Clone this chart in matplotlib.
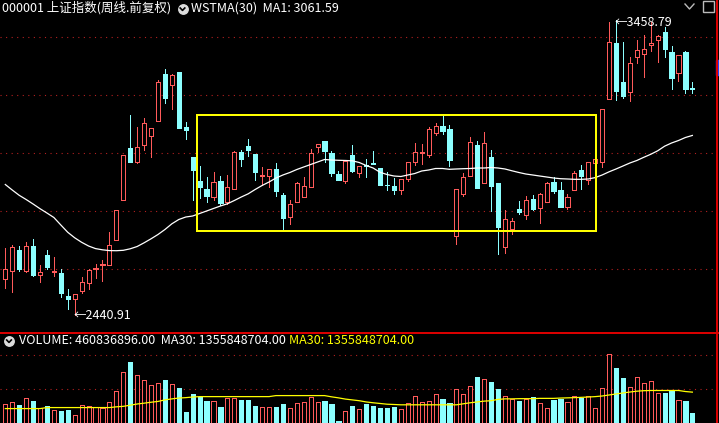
import matplotlib
matplotlib.use("Agg")
import matplotlib.pyplot as plt
import matplotlib.transforms as mtransforms
from matplotlib.lines import Line2D
from matplotlib.patches import Rectangle

plt.rcParams['font.family'] = ['Noto Sans CJK SC', 'DejaVu Sans']

# ---- weekly candles (000001, 前复权) ----
opens = [2565.5, 2594.1, 2666.6, 2594.0, 2680.3, 2579.3, 2648.3, 2590.7, 2587.2, 2506.9,
         2496.6, 2526.2, 2551.7, 2600.0, 2614.8, 2613.8, 2700.0, 2837.9, 3019.3, 2969.0,
         3027.6, 3058.6, 3110.3, 3273.5, 3234.5, 3280.3, 3089.7, 2987.2, 2904.5, 2876.9,
         2851.0, 2904.5, 2833.1, 2878.6, 3004.5, 3025.2, 2997.6, 2920.7, 2922.8, 2945.9,
         2856.2, 2781.4, 2833.1, 2850.3, 2884.8, 3022.8, 3042.4, 3002.1, 2928.6, 2904.5,
         2994.1, 2933.1, 2959.7, 2966.6, 2948.3, 2892.4, 2887.2, 2873.4, 2911.4, 2970.0,
         3000.0, 2994.1, 3071.0, 3094.1, 3083.8, 2715.9, 2859.7, 2922.8, 3028.6, 2898.6,
         2987.2, 2897.6, 2677.9, 2740.0, 2807.9, 2786.2, 2842.4, 2812.4, 2831.0, 2900.0,
         2873.4, 2815.9, 2872.4, 2942.4, 2907.9, 2965.5, 2971.0, 3186.2, 3380.3, 3245.9,
         3210.3, 3331.0, 3341.4, 3372.4, 3389.7, 3417.2, 3349.3, 3275.9, 3348.3, 3225.2]
closes = [2600.0, 2675.9, 2601.0, 2680.3, 2580.3, 2589.7, 2609.0, 2595.2, 2519.3, 2496.6,
          2513.8, 2555.2, 2597.6, 2604.5, 2618.3, 2682.8, 2803.4, 2993.1, 2971.0, 3020.7,
          3103.4, 3088.3, 3245.9, 3191.7, 3269.0, 3088.3, 3081.4, 2941.4, 2884.8, 2853.8,
          2901.0, 2829.7, 2882.8, 3004.5, 2980.3, 3011.4, 2933.8, 2924.1, 2944.8, 2871.0,
          2777.9, 2824.1, 2896.6, 2887.2, 3000.0, 3031.0, 3009.0, 2933.1, 2907.9, 2973.4,
          2939.0, 2956.2, 2956.2, 2964.1, 2890.7, 2889.0, 2873.4, 2911.4, 2969.0, 3003.4,
          3004.5, 3083.8, 3094.1, 3076.9, 2976.9, 2875.9, 2917.2, 3037.9, 2881.4, 3034.5,
          2888.3, 2746.9, 2773.4, 2766.6, 2798.6, 2839.0, 2807.9, 2858.6, 2896.6, 2870.0,
          2815.9, 2850.3, 2931.0, 2922.8, 2969.0, 2979.3, 3151.7, 3382.8, 3215.9, 3198.6,
          3310.3, 3355.2, 3358.6, 3379.3, 3403.4, 3358.6, 3260.7, 3337.9, 3222.8, 3220.7]
highs = [2672.4, 2683.8, 2680.3, 2694.1, 2704.5, 2614.8, 2666.6, 2641.4, 2600.0, 2532.1,
         2515.0, 2573.4, 2600.0, 2618.3, 2632.1, 2729.7, 2804.0, 2994.0, 3131.0, 3089.7,
         3120.7, 3088.3, 3252.8, 3289.7, 3273.5, 3281.0, 3109.0, 2988.0, 2956.2, 2916.6,
         2933.8, 2923.4, 2925.2, 3007.9, 3009.7, 3049.3, 2998.6, 2951.7, 2944.8, 2965.5,
         2862.1, 2839.0, 2902.1, 2917.2, 3013.8, 3031.0, 3044.1, 3007.9, 2939.0, 2973.4,
         3028.6, 2956.2, 2980.3, 3007.9, 2948.3, 2936.6, 2913.8, 2912.0, 2970.0, 3036.6,
         3032.1, 3091.7, 3105.5, 3129.7, 3097.6, 2877.0, 2931.0, 3055.2, 3042.4, 3073.4,
         3011.4, 2897.6, 2804.5, 2775.9, 2835.5, 2852.8, 2856.2, 2862.1, 2902.1, 2917.2,
         2900.0, 2858.6, 2939.0, 2959.7, 2969.0, 2979.3, 3151.7, 3451.7, 3458.79, 3382.8,
         3331.0, 3390.7, 3407.9, 3451.7, 3407.9, 3436.6, 3370.0, 3339.0, 3353.8, 3245.9]
lows = [2534.5, 2522.8, 2595.2, 2592.4, 2577.0, 2557.2, 2600.0, 2577.9, 2503.4, 2463.1,
        2440.91, 2517.2, 2533.1, 2571.0, 2560.7, 2613.8, 2700.0, 2837.9, 2971.0, 2966.6,
        3011.4, 2988.3, 3110.3, 3172.4, 3153.8, 3088.3, 3051.0, 2839.0, 2844.8, 2832.0,
        2838.0, 2822.8, 2825.2, 2878.6, 2954.5, 2992.4, 2907.9, 2889.7, 2882.8, 2852.8,
        2735.5, 2756.2, 2833.1, 2850.3, 2884.8, 3005.5, 2971.0, 2921.7, 2907.9, 2896.6,
        2936.6, 2919.3, 2919.3, 2964.1, 2890.7, 2873.4, 2859.7, 2859.7, 2904.5, 2959.7,
        2963.1, 2986.2, 3062.1, 3066.6, 2956.2, 2687.2, 2852.8, 2922.8, 2881.4, 2898.6,
        2801.0, 2651.7, 2657.2, 2721.7, 2790.7, 2774.5, 2804.5, 2760.7, 2831.0, 2864.1,
        2813.8, 2806.9, 2872.4, 2875.9, 2893.1, 2965.5, 2953.8, 3186.2, 3183.8, 3189.7,
        3180.3, 3310.3, 3264.1, 3353.8, 3315.9, 3331.0, 3222.8, 3250.3, 3209.0, 3206.9]

# WSTMA(30) as drawn
wstma = [2892.4, 2873.4, 2855.2, 2840.7, 2825.2, 2809.0, 2794.1, 2778.6, 2752.8, 2727.6,
         2708.6, 2693.1, 2680.3, 2671.4, 2667.2, 2664.5, 2664.1, 2665.5, 2670.7, 2678.6,
         2691.4, 2705.2, 2720.0, 2737.2, 2756.9, 2771.7, 2780.3, 2783.8, 2792.4, 2801.0,
         2809.7, 2818.3, 2825.9, 2837.2, 2849.3, 2860.3, 2875.2, 2889.0, 2901.0, 2914.8,
         2925.2, 2933.8, 2944.1, 2952.8, 2961.4, 2970.0, 2978.6, 2976.9, 2975.9, 2975.2,
         2974.1, 2968.3, 2957.9, 2949.3, 2934.5, 2926.9, 2921.7, 2920.0, 2925.2, 2930.3,
         2939.0, 2942.4, 2947.6, 2947.6, 2944.8, 2945.9, 2946.9, 2947.6, 2949.3, 2949.3,
         2951.0, 2949.3, 2945.9, 2939.7, 2933.8, 2928.6, 2925.2, 2921.7, 2918.3, 2914.8,
         2912.4, 2911.4, 2910.3, 2910.3, 2911.4, 2916.2, 2925.2, 2936.2, 2945.9, 2956.2,
         2966.6, 2975.2, 2986.2, 2996.6, 3008.6, 3024.5, 3035.5, 3044.1, 3054.5, 3061.59]

# volume, in 1e8 shares
volume = [8.44, 9.03, 7.99, 10.82, 9.48, 6.65, 7.68, 5.88, 5.43, 5.88,
          3.64, 7.99, 7.68, 7.10, 6.65, 9.34, 13.97, 22.50, 26.68, 21.15,
          18.91, 16.66, 17.69, 18.91, 17.11, 15.31, 4.99, 12.62, 11.27, 9.48,
          9.79, 7.23, 10.82, 10.82, 9.93, 9.93, 7.68, 7.23, 7.23, 7.23,
          8.13, 6.78, 8.58, 9.03, 11.27, 9.03, 9.48, 8.13, 0.94, 5.43,
          7.68, 6.33, 8.13, 7.68, 6.78, 6.78, 7.23, 6.33, 8.58, 11.72,
          9.34, 9.79, 12.93, 10.37, 8.89, 14.73, 12.93, 16.08, 20.25, 19.22,
          18.01, 14.87, 12.04, 10.69, 9.48, 10.37, 11.27, 8.89, 6.65, 9.93,
          10.69, 9.34, 12.04, 11.14, 12.04, 6.65, 15.18, 30.45, 24.30, 19.81,
          15.63, 20.12, 17.43, 18.32, 13.38, 13.07, 13.97, 10.24, 9.48, 4.608]
vol_ma30 = [6.33, 6.33, 6.33, 6.33, 6.33, 6.33, 6.78, 6.78, 6.78, 6.78,
            6.78, 6.78, 6.78, 6.78, 6.78, 6.78, 7.10, 7.32, 7.81, 8.35,
            8.71, 9.12, 9.48, 10.15, 10.60, 10.96, 11.14, 11.41, 11.59, 11.59,
            11.59, 11.59, 11.59, 11.59, 11.59, 11.59, 11.59, 11.59, 11.59, 12.04,
            12.04, 12.04, 12.04, 12.04, 12.04, 12.04, 12.04, 11.50, 11.05, 10.51,
            10.15, 9.79, 9.25, 8.89, 8.58, 8.26, 8.13, 7.99, 7.99, 7.99,
            7.99, 7.99, 7.99, 7.99, 7.99, 7.99, 8.44, 8.89, 9.25, 9.61,
            9.79, 10.37, 10.60, 10.60, 10.69, 10.69, 10.69, 10.82, 10.82, 10.82,
            10.96, 11.05, 11.14, 11.27, 11.41, 11.59, 11.86, 12.31, 12.75, 13.20,
            13.61, 13.97, 14.19, 14.28, 14.28, 14.28, 14.28, 14.28, 13.83, 13.56]

price_grid = [2600, 2800, 3000, 3200, 3400]
vol_grid = [15, 30]
box_x = (27.6, 85.1)
box_y = (2733, 3132)

RED = "#ff5a5a"
CYAN = "#8cffff"
GRID = "#b42020"
W = 719
H = 423

fig = plt.figure(figsize=(W / 100, H / 100), dpi=100, facecolor="black")
# pixel transform with origin at top-left
T = mtransforms.Affine2D().scale(1, -1).translate(0, H)

ax = fig.add_axes([0, 1 - 332 / H, 717 / W, 332 / H])
axv = fig.add_axes([0, 0, 717 / W, 89 / H])
for a in (ax, axv):
    a.set_facecolor("black")
    a.set_xlim(-0.764, 102.55)
    a.set_xticks([])
    a.set_yticks([])
    for s in a.spines.values():
        s.set_visible(False)
ax.set_ylim(2383.8, 3528.6)
axv.set_ylim(0, 39.1)

for g in price_grid:
    ax.axhline(g, color=GRID, lw=0.8, ls=(0, (1, 4)), zorder=1)
for g in vol_grid:
    axv.axhline(g, color=GRID, lw=0.8, ls=(0, (1, 4)), zorder=1)

bw = 0.6
lw = 0.72
for i in range(len(opens)):
    o, c, hi, lo = opens[i], closes[i], highs[i], lows[i]
    if c >= o:
        ax.vlines(i, c, hi, color=RED, lw=lw, zorder=3, antialiased=False)
        ax.vlines(i, lo, o, color=RED, lw=lw, zorder=3, antialiased=False)
        ax.bar(i, max(c - o, 0.5), bottom=o, width=bw, facecolor="black",
               edgecolor=RED, lw=lw, zorder=4, antialiased=False)
        axv.bar(i, volume[i], width=bw, facecolor="black", edgecolor=RED, lw=lw,
                zorder=3, antialiased=False)
    else:
        ax.vlines(i, lo, hi, color=CYAN, lw=lw, zorder=3, antialiased=False)
        ax.bar(i, o - c, bottom=c, width=bw, facecolor=CYAN,
               edgecolor=CYAN, lw=lw, zorder=4, antialiased=False)
        axv.bar(i, volume[i], width=bw, facecolor=CYAN, edgecolor=CYAN, lw=lw,
                zorder=3, antialiased=False)

x = list(range(len(wstma)))
ax.plot(x, wstma, color="white", lw=0.9, zorder=5)
axv.plot(x, vol_ma30, color="#ffff00", lw=0.9, zorder=5)

ax.add_patch(Rectangle((box_x[0], box_y[0]), box_x[1] - box_x[0], box_y[1] - box_y[0],
                       fill=False, edgecolor="#ffff00", lw=1.44, zorder=6, antialiased=False))

# high / low marks
ax.text(10 - 0.2, lows[10], "←2440.91", color="white", fontsize=9, va="center", ha="left", zorder=7)
ax.text(88 - 0.2, highs[88] - 8, "←3458.79", color="white", fontsize=9, va="center", ha="left", zorder=7)

# panel frame
fig.add_artist(Line2D([0, W], [332.7, 332.7], color="#e00000", lw=1.4, transform=T))
fig.add_artist(Line2D([717, 717], [0, H], color="#e00000", lw=1.4, transform=T))
fig.add_artist(Rectangle((716, 60), 4, 15, color="#2040ff", transform=T))


def chevron_icon(cx, cy):
    fig.add_artist(Line2D([cx], [cy], marker="o", ms=6.8, color="#dcdcdc", transform=T))
    fig.add_artist(Line2D([cx - 2.3, cx, cx + 2.3], [cy - 1.0, cy + 1.4, cy - 1.0],
                          color="black", lw=1.2, transform=T))


# headers
fig.text(2, 8, "000001 上证指数(周线.前复权)", color="white", fontsize=9, va="center", transform=T)
chevron_icon(182.5, 9)
fig.text(191, 8, "WSTMA(30)  MA1: 3061.59", color="white", fontsize=9, va="center", transform=T)

chevron_icon(9, 341)
fig.text(19, 340.5, "VOLUME: 460836896.00  MA30: 1355848704.00", color="white",
         fontsize=9, va="center", transform=T)
fig.text(289, 340.5, "MA30: 1355848704.00", color="#ffff00", fontsize=9, va="center", transform=T)

# top-right ui icons
fig.add_artist(Line2D([685, 689.5, 694], [4, 9, 4], color="#bbbbbb", lw=1.0, transform=T))
fig.add_artist(Rectangle((703, 1), 11, 11, fill=False, edgecolor="#bbbbbb", lw=1.0, transform=T))

fig.savefig("out.png", dpi=100, facecolor="black")
